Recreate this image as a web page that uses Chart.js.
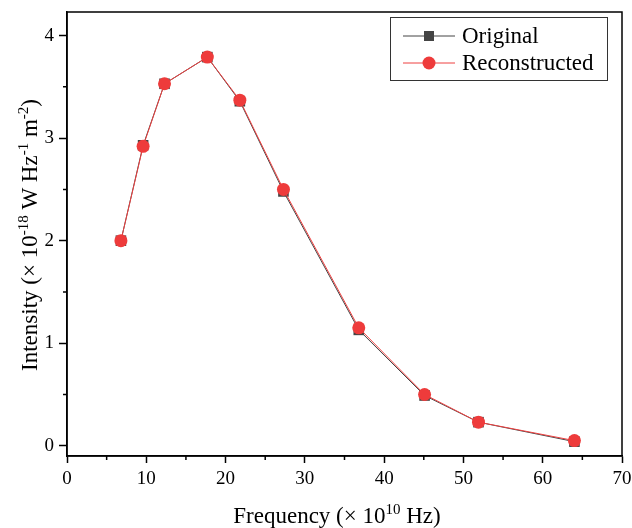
<!DOCTYPE html>
<html>
<head>
<meta charset="utf-8">
<script src="https://cdn.jsdelivr.net/npm/chart.js@4.4.0/dist/chart.umd.min.js"></script>
<style>
  html, body { margin: 0; padding: 0; background: #fff; }
  canvas { display: block; }
</style>
</head>
<body>
<canvas id="grafico" width="632" height="528"></canvas>
<script>
// dados
const freqOriginal = [6.8, 9.6, 12.3, 17.7, 21.8, 27.3, 36.8, 45.1, 51.9, 64.0];
const intOriginal = [2.00, 2.93, 3.53, 3.79, 3.36, 2.48, 1.13, 0.49, 0.23, 0.04];
const freqRecon = [6.8, 9.6, 12.3, 17.7, 21.8, 27.3, 36.8, 45.1, 51.9, 64.0];
const intRecon = [2.00, 2.92, 3.53, 3.79, 3.37, 2.50, 1.15, 0.50, 0.23, 0.05];
const xTicks = [0, 5, 10, 15, 20, 25, 30, 35, 40, 45, 50, 55, 60, 65, 70];
const yTicks = [0, 0.5, 1, 1.5, 2, 2.5, 3, 3.5, 4];
const nomes = ['Original', 'Reconstructed'];

// títulos dos eixos em pedaços: [texto, sobrescrito?]
const tituloX = [['Frequency (× 10', false], ['10', true], [' Hz)', false]];
const tituloY = [['Intensity (× 10', false], ['-18', true], [' W Hz', false], ['-1', true], [' m', false], ['-2', true], [')', false]];

const fonte = '"Liberation Serif", "Times New Roman", serif';

// desenha texto com sobrescritos, centrado em (0,0)
function textoRico(ctx, partes, tam) {
    const tamSup = Math.round(tam * 0.65);
    let larg = 0;
    partes.forEach(p => {
        ctx.font = (p[1] ? tamSup : tam) + 'px ' + fonte;
        larg += ctx.measureText(p[0]).width;
    });
    let x = -larg / 2;
    ctx.textBaseline = 'alphabetic';
    ctx.textAlign = 'left';
    partes.forEach(p => {
        ctx.font = (p[1] ? tamSup : tam) + 'px ' + fonte;
        ctx.fillText(p[0], x, p[1] ? -tam * 0.38 : 0);
        x += ctx.measureText(p[0]).width;
    });
}

const titulos = {
    id: 'titulos',
    afterDraw(chart) {
        const a = chart.chartArea;
        const ctx = chart.ctx;
        ctx.save();
        ctx.fillStyle = '#000';
        ctx.translate(337, 523);
        textoRico(ctx, tituloX, 23);
        ctx.restore();
        ctx.save();
        ctx.fillStyle = '#000';
        ctx.translate(37, (a.top + a.bottom) / 2 + 1);
        ctx.rotate(-Math.PI / 2);
        textoRico(ctx, tituloY, 23);
        ctx.restore();
    }
};

// moldura e marcas menores (mais curtas) dos eixos
const moldura = {
    id: 'moldura',
    afterDraw(chart) {
        const a = chart.chartArea;
        const ctx = chart.ctx;
        ctx.save();
        ctx.strokeStyle = '#000';
        ctx.lineWidth = 1.5;
        ctx.strokeRect(a.left, a.top, a.right - a.left, a.bottom - a.top);
        ctx.beginPath();
        xTicks.filter(v => v % 10 !== 0).forEach(v => {
            const px = chart.scales.x.getPixelForValue(v);
            ctx.moveTo(px, a.bottom);
            ctx.lineTo(px, a.bottom + 4);
        });
        yTicks.filter(v => v % 1 !== 0).forEach(v => {
            const py = chart.scales.y.getPixelForValue(v);
            ctx.moveTo(a.left, py);
            ctx.lineTo(a.left - 4, py);
        });
        ctx.stroke();
        ctx.restore();
    }
};

// legenda com caixa, linha e marcador
const legenda = {
    id: 'legenda',
    afterDraw(chart) {
        const ctx = chart.ctx;
        ctx.save();
        ctx.strokeStyle = '#333';
        ctx.lineWidth = 1;
        ctx.strokeRect(390.5, 17.5, 217, 63);
        ctx.font = '23px ' + fonte;
        ctx.textBaseline = 'middle';
        chart.data.datasets.forEach((ds, i) => {
            const y = 36 + i * 27;
            ctx.strokeStyle = ds.borderColor;
            ctx.beginPath();
            ctx.moveTo(403, y);
            ctx.lineTo(455, y);
            ctx.stroke();
            ctx.fillStyle = ds.pointBackgroundColor;
            if (ds.pointStyle === 'rect') {
                ctx.fillRect(424, y - 5, 10, 10);
            } else {
                ctx.beginPath();
                ctx.arc(429, y, 6.5, 0, Math.PI * 2);
                ctx.fill();
            }
            ctx.fillStyle = '#000';
            ctx.fillText(ds.label, 462, y + 1);
        });
        ctx.restore();
    }
};

const marcaMaior = (c) => (c.tick && c.tick.value % (c.scale.axis === 'x' ? 10 : 1) === 0 ? '#000' : 'rgba(0,0,0,0)');

const ctx = document.getElementById('grafico').getContext('2d');
new Chart(ctx, {
    type: 'line',
    data: {
        datasets: [
            {
                label: nomes[0],
                data: freqOriginal.map((x, i) => ({ x: x, y: intOriginal[i] })),
                borderColor: '#444444',
                backgroundColor: '#444444',
                pointBackgroundColor: '#444444',
                pointBorderWidth: 0,
                pointStyle: 'rect',
                pointRadius: 7.5,
                borderWidth: 1,
                order: 2
            },
            {
                label: nomes[1],
                data: freqRecon.map((x, i) => ({ x: x, y: intRecon[i] })),
                borderColor: '#EE4040',
                backgroundColor: '#EE3B3B',
                pointBackgroundColor: '#EE3B3B',
                pointBorderWidth: 0,
                pointStyle: 'circle',
                pointRadius: 6.5,
                borderWidth: 1,
                order: 1
            }
        ]
    },
    options: {
        responsive: false,
        animation: false,
        devicePixelRatio: 1,
        layout: { padding: { top: 12, right: 10, left: 0, bottom: 0 } },
        plugins: {
            legend: { display: false },
            tooltip: { enabled: false }
        },
        scales: {
            x: {
                type: 'linear',
                min: 0,
                max: 70,
                afterBuildTicks: (eixo) => { eixo.ticks = xTicks.map(v => ({ value: v })); },
                afterFit: (eixo) => { eixo.height = 72; eixo.paddingLeft = 0; eixo.paddingRight = 0; },
                border: { display: true, color: '#000', width: 1.5 },
                grid: {
                    drawOnChartArea: false,
                    tickLength: 7,
                    tickColor: marcaMaior,
                    tickWidth: 1.5
                },
                ticks: {
                    color: '#000',
                    padding: 5,
                    maxRotation: 0,
                    autoSkip: false,
                    font: { family: fonte, size: 19 },
                    callback: (v) => (v % 10 === 0 ? v : '')
                }
            },
            y: {
                type: 'linear',
                min: -0.1,
                max: 4.23,
                afterBuildTicks: (eixo) => { eixo.ticks = yTicks.map(v => ({ value: v })); },
                afterFit: (eixo) => { eixo.width = 67; eixo.paddingTop = 0; eixo.paddingBottom = 0; },
                border: { display: true, color: '#000', width: 1.5 },
                grid: {
                    drawOnChartArea: false,
                    tickLength: 8,
                    tickColor: marcaMaior,
                    tickWidth: 1.5
                },
                ticks: {
                    color: '#000',
                    padding: 5,
                    autoSkip: false,
                    font: { family: fonte, size: 19 },
                    callback: (v) => (v % 1 === 0 ? v : '')
                }
            }
        }
    },
    plugins: [moldura, legenda, titulos]
});
</script>
</body>
</html>
